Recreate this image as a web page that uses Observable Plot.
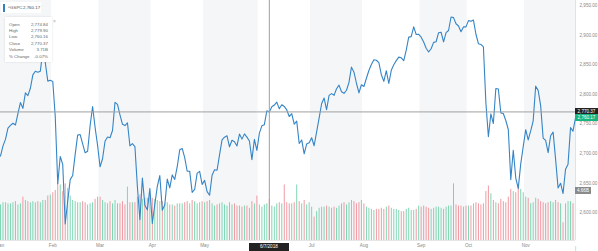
<!DOCTYPE html>
<html><head><meta charset="utf-8">
<script src="https://cdn.jsdelivr.net/npm/d3@7"></script>
<script src="https://cdn.jsdelivr.net/npm/@observablehq/plot@0.6"></script>
<style>
body{margin:0;background:#fff;font-family:"Liberation Sans",Arial,sans-serif;}
#wrap{position:relative;width:598px;height:251px;overflow:hidden;}
#wrap svg{position:absolute;left:0;top:0;}
.lab{position:absolute;font-size:4.6px;line-height:7px;height:7px;color:#fff;text-align:center;white-space:nowrap;}
#tip{position:absolute;left:5px;top:17px;width:47px;height:45px;background:#fff;box-shadow:0 0 2px rgba(0,0,0,0.12);font-size:4.4px;color:#666;}
#tip .row{position:absolute;left:4px;right:4px;height:6px;}
#tip .row span:last-child{position:absolute;right:0;}
#legend{position:absolute;left:1px;top:2px;width:40px;height:11px;background:#fff;font-size:4.4px;color:#555;line-height:11px;}
#legend i{position:absolute;left:2px;top:2px;width:2px;height:8px;background:#2f7fc1;}
</style></head><body><div id="wrap"></div>
<script>
const monthNames = ["Jan","Feb","Mar","Apr","May","Jun","Jul","Aug","Sep","Oct","Nov"];
const monthDays = [21,19,21,21,22,21,21,23,19,23,21];
const closes = [
 2695.81,2713.06,2723.99,2743.15,2747.71,2751.29,2748.23,2767.56,2786.24,2776.42,2802.56,2798.03,2810.30,2832.97,2839.13,2837.54,2839.25,2872.87,2853.53,2822.43,2823.81,
 2821.98,2762.13,2648.94,2695.14,2681.66,2581.00,2619.55,2656.00,2662.94,2698.63,2731.20,2732.22,2716.26,2701.33,2703.96,2747.30,2779.60,2744.28,2713.83,
 2677.67,2691.25,2720.94,2728.12,2726.80,2738.97,2786.57,2783.02,2765.31,2749.48,2747.33,2752.01,2712.92,2716.94,2711.93,2643.69,2588.26,2658.55,2612.62,2605.00,2640.87,
 2581.88,2614.45,2644.69,2662.84,2604.47,2613.16,2656.87,2642.19,2663.99,2656.30,2677.84,2706.39,2708.64,2693.13,2670.14,2670.29,2634.56,2639.40,2666.94,2669.91,2648.05,
 2654.80,2635.67,2629.73,2663.42,2672.63,2671.92,2697.79,2723.07,2727.72,2730.13,2711.45,2722.46,2720.13,2712.97,2733.01,2724.44,2733.29,2727.76,2721.33,2689.86,2724.01,2705.27,
 2734.62,2746.87,2748.80,2772.35,2770.37,2779.03,2782.00,2786.85,2775.63,2782.49,2779.66,2773.75,2762.59,2767.32,2749.76,2754.88,2717.07,2723.06,2699.63,2716.31,2718.37,
 2726.71,2713.22,2736.61,2759.82,2784.17,2793.84,2774.02,2798.29,2801.31,2798.43,2809.55,2815.62,2804.49,2801.83,2806.98,2820.40,2846.07,2837.44,2818.82,2802.60,2816.29,
 2813.36,2827.22,2840.35,2850.40,2858.45,2857.70,2853.58,2833.28,2821.93,2839.96,2818.37,2840.69,2850.13,2857.05,2862.96,2861.82,2856.98,2874.69,2896.74,2897.52,2914.04,2901.13,2901.52,
 2896.72,2888.60,2878.05,2871.68,2877.13,2887.89,2888.92,2904.18,2904.98,2888.80,2904.31,2907.95,2930.75,2929.67,2919.37,2915.56,2905.97,2914.00,2913.98,
 2924.59,2923.43,2925.51,2901.61,2885.57,2884.43,2880.34,2785.68,2728.37,2767.13,2750.79,2809.92,2809.21,2768.78,2767.78,2755.88,2740.69,2656.10,2705.57,2658.69,2641.25,2682.63,2711.74,
 2740.37,2723.06,2738.31,2755.45,2813.89,2806.83,2781.01,2726.22,2722.18,2701.58,2730.20,2736.27,2690.73,2641.89,2649.93,2632.56,2673.45,2682.17,2743.79,2737.80,2760.17
];
const volumes = [
 3.2,3.4,3.4,3.3,3.3,3.4,3.5,3.2,3.3,3.9,3.6,3.5,3.4,3.5,3.4,3.5,3.4,3.6,3.6,4.0,4.1,
 4.3,4.5,5.2,5.0,4.4,5.1,4.7,4.0,3.6,3.5,3.4,3.4,3.5,3.4,3.2,3.3,3.4,3.7,3.9,
 3.9,3.6,3.4,3.3,3.5,3.3,3.6,3.3,3.3,3.5,3.2,4.8,3.4,3.4,3.4,3.9,4.1,3.7,3.8,3.8,3.9,
 3.8,3.7,3.6,3.5,3.5,3.3,3.4,3.2,3.2,3.1,3.3,3.3,3.3,3.4,3.5,3.3,3.6,3.5,3.3,3.4,3.5,
 3.4,3.5,3.6,3.3,3.1,3.2,3.3,3.4,3.2,3.1,3.4,3.2,3.3,3.1,3.1,3.0,3.1,3.1,2.9,3.5,3.3,4.0,
 3.2,3.0,3.2,3.3,3.7,3.1,3.0,3.3,3.4,3.3,5.0,3.4,3.3,3.3,3.4,5.0,3.5,3.3,3.6,3.2,3.4,
 3.0,2.1,2.6,2.9,3.0,3.0,3.1,3.0,2.9,3.0,2.9,3.1,3.3,3.4,3.2,3.4,3.6,3.5,3.3,3.4,3.6,
 3.3,3.0,2.9,2.8,2.7,2.8,2.8,2.9,2.8,3.0,3.1,2.9,2.8,2.8,2.7,2.6,2.6,2.8,2.9,2.7,2.7,2.8,3.1,
 3.0,3.1,3.0,2.9,2.8,2.9,3.0,3.0,2.9,2.8,3.0,3.1,3.1,5.1,3.2,3.1,3.1,3.0,3.1,
 3.1,3.1,3.3,3.4,3.3,3.2,3.3,4.4,4.9,4.2,3.6,3.4,3.3,3.7,3.5,3.4,3.9,4.6,4.4,4.3,4.8,4.6,4.3,
 3.9,3.8,3.3,3.4,3.8,3.7,3.5,3.4,3.3,3.4,3.5,3.4,3.6,3.4,3.3,1.6,3.3,3.5,3.5,3.3,4.5
];
const yTicks = [2600,2650,2700,2750,2800,2850,2900,2950];
const symbol = "^GSPC";
const lastLabel = "2,760.17";
const crossMonth = 5, crossDay = 4, crossDate = "6/7/2018";
const tipLabels = ["Open","High","Low","Close","Volume","% Change"];
const tipValues = ["2,774.84","2,779.90","2,760.16","2,770.37","3.71B","-0.07%"];
const volLabel = "4.66B";

const monthStart = d3.cumsum([0, ...monthDays]).slice(0, monthDays.length);
const n = closes.length;
const idx = d3.range(n);
const up = idx.filter(i => i === 0 || closes[i] >= closes[i-1]);
const down = idx.filter(i => i > 0 && closes[i] < closes[i-1]);
const bands = monthNames.map((m, i) => ({x1: Math.max(0, monthStart[i] - 0.5), x2: Math.min(n - 1, monthStart[i] + monthDays[i] - 0.5), shade: i % 2 === 0})).filter(d => d.shade);
const crossIdx = monthStart[crossMonth] + crossDay;
const crossVal = closes[crossIdx];
// month labels shown on the axis (the crosshair's month is hidden under the date box)
const axisTicks = monthStart.filter((d, i) => i !== crossMonth);

const common = {width: 598, height: 251, marginLeft: 0, marginRight: 23, marginTop: 0, marginBottom: 11};

const back = Plot.plot({...common,
  style: {background: "#fff"},
  x: {domain: [0, n - 1], axis: null},
  y: {domain: [0, 21.6], axis: null},
  marks: [
    Plot.rectY(bands, {x1: "x1", x2: "x2", y1: 0, y2: 21.6, fill: "#f5f6f8"}),
    Plot.ruleX(up, {x: i => i, y1: 0, y2: i => volumes[i], stroke: "#7fd6b3", strokeWidth: 1}),
    Plot.ruleX(down, {x: i => i, y1: 0, y2: i => volumes[i], stroke: "#f09aa3", strokeWidth: 1})
  ]
});

const front = Plot.plot({...common,
  style: {background: "transparent", fontFamily: "Liberation Sans, Arial, sans-serif", fontSize: "4.6px", color: "#888"},
  x: {domain: [0, n - 1]},
  y: {domain: [2553.2, 2958.6]},
  marks: [
    Plot.ruleX([n - 1], {stroke: "#e2e2e2", strokeWidth: 1}),
    Plot.ruleY([2553.2], {stroke: "#e6e6e6"}),
    Plot.line(idx, {x: i => i, y: i => closes[i], stroke: "#3585c6", strokeWidth: 1.1}),
    Plot.ruleX([crossIdx], {stroke: "#a0a0a0", strokeWidth: 1}),
    Plot.ruleY([crossVal], {stroke: "#a0a0a0", strokeWidth: 1}),
    Plot.axisY({anchor: "right", ticks: yTicks, tickSize: 0, tickPadding: 4, tickFormat: d3.format(",.2f"), fill: "#888"}),
    Plot.axisX({anchor: "bottom", ticks: axisTicks, tickSize: 0, tickPadding: 3, tickFormat: (d) => monthNames[monthStart.indexOf(d)], fill: "#888"}),
    Plot.text([n - 1], {x: i => i, frameAnchor: "bottom", dy: 9, text: () => "|", fill: "#999"})
  ]
});

const wrap = document.getElementById("wrap");
wrap.appendChild(back);
wrap.appendChild(front);

const xs = front.scale("x"), ys = front.scale("y"), vs = back.scale("y");
function label(text, left, cy, w, bg, color) {
  const d = document.createElement("div");
  d.className = "lab";
  d.textContent = text;
  d.style.left = left + "px"; d.style.top = (cy - 3.5) + "px"; d.style.width = w + "px";
  d.style.background = bg; d.style.color = color;
  wrap.appendChild(d);
}
const fmt = d3.format(",.2f");
const xr = xs.apply(n - 1);
label(fmt(crossVal), xr, ys.apply(crossVal), 23, "#222", "#fff");
label(lastLabel, xr, ys.apply(closes[n - 1]), 23, "#16b57f", "#fff");
label(volLabel, xr, vs.apply(volumes[n - 1]), 16, "#8a8a8a", "#fff");
const dl = document.createElement("div");
dl.className = "lab";
dl.textContent = crossDate;
dl.style.left = (xs.apply(crossIdx) - 20) + "px"; dl.style.top = "243px"; dl.style.width = "40px"; dl.style.height = "8px";
dl.style.background = "#222"; dl.style.lineHeight = "8px";
wrap.appendChild(dl);

const lg = document.createElement("div");
lg.id = "legend";
lg.innerHTML = `<i></i><span style="position:absolute;left:7px">${symbol}</span><span style="position:absolute;left:22px;color:#444">${lastLabel}</span>`;
wrap.appendChild(lg);

const tip = document.createElement("div");
tip.id = "tip";
tipLabels.forEach((t, i) => {
  const r = document.createElement("div");
  r.className = "row";
  r.style.top = (4.5 + i * 6.4) + "px";
  r.innerHTML = `<span>${t}</span><span>${tipValues[i]}</span>`;
  tip.appendChild(r);
});
const xx = document.createElement("div");
xx.textContent = "×";
xx.style.cssText = "position:absolute;right:-4px;top:1px;font-size:5px;color:#aaa;";
tip.appendChild(xx);
wrap.appendChild(tip);
</script></body></html>
